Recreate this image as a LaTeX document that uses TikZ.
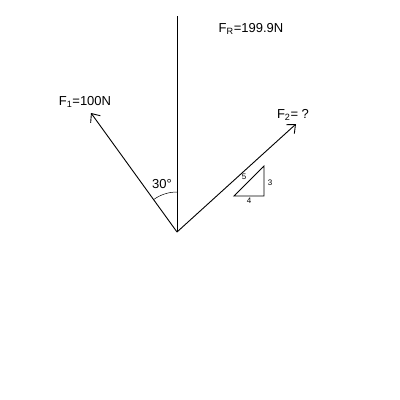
\documentclass[tikz,border=0pt]{standalone}
\usepackage{fontspec}
\setmainfont{Liberation Sans}
\usetikzlibrary{arrows.meta}
\begin{document}
\begin{tikzpicture}[x=1pt,y=-1pt,
  line width=0.9pt,
  vec/.style={-{Straight Barb[length=7pt,width=12pt,line width=0.9pt]}},
  lbl/.style={font=\fontsize{13}{15}\selectfont, inner sep=0pt},
  small/.style={font=\fontsize{8}{9}\selectfont, inner sep=0pt}]
\useasboundingbox (0,0) rectangle (400,400);
\coordinate (O) at (177,232);
\coordinate (top) at (177,16);
\coordinate (f1) at (91,113);
\coordinate (f2) at (296,124);
\draw (O) -- (top);
\draw[vec] (O) -- (f1);
\draw[vec] (O) -- (f2);
\draw[line width=0.5pt] (177,192) arc[start angle=-90, end angle=-125.8, radius=40];
\node[lbl] (a30) at (162,184) {30°};
\node[lbl] (lf1) at (85,102) {F\textsubscript{1}=100N};
\node[lbl] (lfr) at (251,29) {F\textsubscript{R}=199.9N};
\node[lbl] (lf2) at (293,115) {F\textsubscript{2}= ?};
\coordinate (t1) at (234,196);
\coordinate (t2) at (264,196);
\coordinate (t3) at (264,166);
\draw[line width=0.9pt] (t1) -- (t2) -- (t3) -- cycle;
\node[small] (l5) at (244,177) {5};
\node[small] (l3) at (270,183) {3};
\node[small] (l4) at (249,201) {4};
\end{tikzpicture}
\end{document}
